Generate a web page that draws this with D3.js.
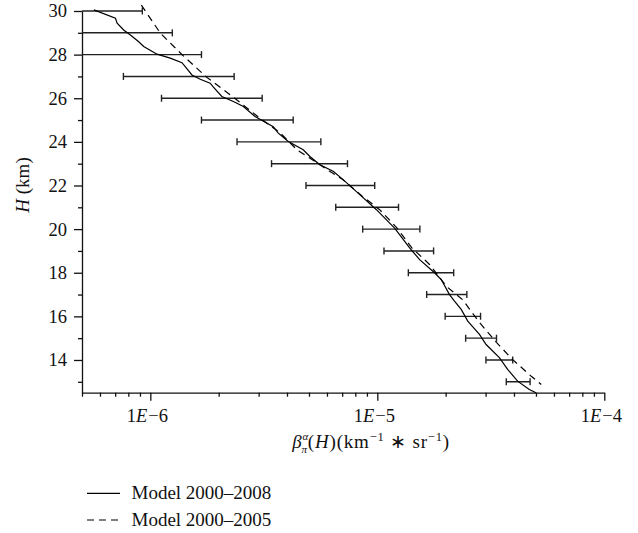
<!DOCTYPE html>
<html>
<head>
<meta charset="utf-8">
<script src="https://cdn.jsdelivr.net/npm/d3@7"></script>
<style>
  html, body { margin: 0; padding: 0; background: #fff; }
  svg { display: block; }
  text { font-family: "Liberation Serif", "Times New Roman", serif; fill: #111; }
</style>
</head>
<body>
<svg id="chart" width="638" height="533"></svg>
<script>
// ---- Data ----
const barHeights = [30, 29, 28, 27, 26, 25, 24, 23, 22, 21, 20, 19, 18, 17, 16, 15, 14, 13];
const barLow  = [4e-7, 4e-7, 4e-7, 7.61e-7, 1.12e-6, 1.68e-6, 2.41e-6, 3.42e-6, 4.85e-6, 6.56e-6, 8.62e-6, 1.07e-5, 1.37e-5, 1.65e-5, 1.99e-5, 2.45e-5, 3.01e-5, 3.70e-5];
const barHigh = [9.22e-7, 1.25e-6, 1.68e-6, 2.34e-6, 3.11e-6, 4.26e-6, 5.64e-6, 7.39e-6, 9.74e-6, 1.24e-5, 1.54e-5, 1.77e-5, 2.17e-5, 2.48e-5, 2.85e-5, 3.35e-5, 3.95e-5, 4.71e-5];

const solidH = [30.05, 29.67, 29.44, 29.13, 28.90, 28.59, 28.37, 28.02, 27.84, 27.63, 27.45, 27.07, 26.87, 26.69, 26.51, 26.08, 25.85, 25.62, 25.16, 24.70, 24.40, 24.02, 23.64, 23.33, 22.95, 22.65, 22.27, 21.58, 20.89, 20.05, 19.14, 18.60, 18.00, 17.69, 17.00, 16.70, 16.32, 15.78, 15.17, 14.71, 14.11, 13.57, 13.03, 12.65, 12.50];
const solidV = [5.64e-7, 7.02e-7, 7.14e-7, 7.63e-7, 8.17e-7, 8.89e-7, 9.35e-7, 1.07e-6, 1.224e-6, 1.378e-6, 1.425e-6, 1.525e-6, 1.659e-6, 1.835e-6, 1.897e-6, 2.065e-6, 2.323e-6, 2.570e-6, 2.893e-6, 3.481e-6, 3.662e-6, 4.053e-6, 4.716e-6, 5.047e-6, 5.584e-6, 6.389e-6, 7.068e-6, 8.369e-6, 9.91e-6, 1.192e-5, 1.388e-5, 1.536e-5, 1.787e-5, 1.912e-5, 2.080e-5, 2.188e-5, 2.342e-5, 2.503e-5, 2.818e-5, 3.015e-5, 3.449e-5, 3.751e-5, 4.151e-5, 4.673e-5, 5.0e-5];

const dashedH = [30.27, 28.99, 27.99, 26.98, 26.06, 25.15, 24.42, 23.64, 22.86, 22.27, 21.49, 20.89, 20.07, 19.15, 18.38, 17.37, 16.77, 15.72, 14.81, 14.03, 13.25, 12.88];
const dashedV = [9.13e-7, 1.106e-6, 1.382e-6, 1.762e-6, 2.316e-6, 2.982e-6, 3.726e-6, 4.424e-6, 5.756e-6, 7.047e-6, 8.627e-6, 1.0245e-5, 1.217e-5, 1.416e-5, 1.699e-5, 2.018e-5, 2.373e-5, 2.818e-5, 3.346e-5, 3.935e-5, 4.768e-5, 5.276e-5];

const xMajorTicks = [1e-6, 1e-5, 1e-4];
const xTickMantissa = ["1", "1", "1"];
const xTickExponent = ["−6", "−5", "−4"];
const xMinorTicks = [5e-7, 6e-7, 7e-7, 8e-7, 9e-7, 2e-6, 3e-6, 4e-6, 5e-6, 6e-6, 7e-6, 8e-6, 9e-6, 2e-5, 3e-5, 4e-5, 5e-5, 6e-5, 7e-5, 8e-5, 9e-5];
const yMajorTicks = [14, 16, 18, 20, 22, 24, 26, 28, 30];
const yMinorTicks = [13, 15, 17, 19, 21, 23, 25, 27, 29];
const legendLabels = ["Model 2000–2008", "Model 2000–2005"];

// ---- Layout ----
const svg = d3.select("#chart");
const plotLeft = 82, plotRight = 604.3, plotTop = 11, plotBottom = 392.7;
const x = d3.scaleLog().domain([5e-7, 1e-4]).range([plotLeft, plotRight]);
const y = d3.scaleLinear().domain([12.5, 30]).range([plotBottom, plotTop]);

svg.append("defs").append("clipPath").attr("id", "plotclip")
  .append("rect").attr("x", plotLeft).attr("y", 0).attr("width", plotRight - plotLeft + 10).attr("height", plotBottom);

// ---- Axes ----
const axisStroke = "#111";
function styleAxis(g) {
  g.selectAll("path.domain").attr("stroke", axisStroke).attr("stroke-width", 1.3);
  g.selectAll(".tick line").attr("stroke", axisStroke).attr("stroke-width", 1.3);
}
const gy = svg.append("g").attr("transform", `translate(${plotLeft},0)`)
  .call(d3.axisLeft(y).tickValues(yMajorTicks).tickSize(8).tickSizeOuter(0).tickPadding(7).tickFormat(d3.format("d")));
gy.selectAll("text").attr("font-size", 18.5).attr("font-family", "Liberation Serif").attr("fill", "#111");
styleAxis(gy);
const gy2 = svg.append("g").attr("transform", `translate(${plotLeft},0)`)
  .call(d3.axisLeft(y).tickValues(yMinorTicks).tickSize(4).tickSizeOuter(0).tickFormat(""));
gy2.select("path.domain").remove();
styleAxis(gy2);

const gx = svg.append("g").attr("transform", `translate(0,${plotBottom})`)
  .call(d3.axisBottom(x).tickValues(xMajorTicks).tickSize(8).tickSizeOuter(0).tickFormat(""));
styleAxis(gx);
const gx2 = svg.append("g").attr("transform", `translate(0,${plotBottom})`)
  .call(d3.axisBottom(x).tickValues(xMinorTicks).tickSize(4).tickSizeOuter(0).tickFormat(""));
gx2.select("path.domain").remove();
styleAxis(gx2);

xMajorTicks.forEach((v, i) => {
  const t = svg.append("text")
    .attr("x", x(v) - 3).attr("y", 422)
    .attr("text-anchor", "middle").attr("font-size", 18.5);
  t.append("tspan").text(xTickMantissa[i]);
  t.append("tspan").attr("font-style", "italic").text("E");
  t.append("tspan").attr("dx", 1).text(xTickExponent[i]);
});

// ---- Error bars ----
const bars = svg.append("g").attr("clip-path", "url(#plotclip)");
const cap = 3.5;
barHeights.forEach((h, i) => {
  const yy = y(h), x0 = x(barLow[i]), x1 = x(barHigh[i]);
  bars.append("line").attr("x1", x0).attr("x2", x1).attr("y1", yy).attr("y2", yy)
    .attr("stroke", "#222").attr("stroke-width", 1.4);
  [x0, x1].forEach(xc => {
    bars.append("line").attr("x1", xc).attr("x2", xc).attr("y1", yy - cap).attr("y2", yy + cap)
      .attr("stroke", "#222").attr("stroke-width", 1.4);
  });
});

// ---- Lines ----
const line = d3.line().x(d => x(d[0])).y(d => y(d[1]));
const solidData = solidV.map((v, i) => [v, solidH[i]]);
const dashedData = dashedV.map((v, i) => [v, dashedH[i]]);
svg.append("path").datum(solidData).attr("d", line)
  .attr("fill", "none").attr("stroke", "#000").attr("stroke-width", 1.2);
svg.append("path").datum(dashedData).attr("d", line)
  .attr("fill", "none").attr("stroke", "#000").attr("stroke-width", 1.2).attr("stroke-dasharray", "7,5");

// ---- Axis titles ----
const xt = svg.append("text").attr("x", 371).attr("y", 448).attr("text-anchor", "middle")
  .attr("font-size", 19).attr("letter-spacing", 0.8);
xt.append("tspan").attr("font-style", "italic").text("β");
xt.append("tspan").attr("font-size", 11).attr("font-style", "italic").attr("dy", -8).text("α");
xt.append("tspan").attr("font-size", 11).attr("font-style", "italic").attr("dx", -7.5).attr("dy", 13).text("π");
xt.append("tspan").attr("dy", -5).text("(");
xt.append("tspan").attr("font-style", "italic").text("H");
xt.append("tspan").text(")(km");
xt.append("tspan").attr("font-size", 12.5).attr("dy", -7).text("−1");
xt.append("tspan").attr("dy", 7).text(" ∗ sr");
xt.append("tspan").attr("font-size", 12.5).attr("dy", -7).text("−1");
xt.append("tspan").attr("dy", 7).text(")");

const yt = svg.append("text").attr("transform", "translate(29,185) rotate(-90)")
  .attr("text-anchor", "middle").attr("font-size", 19);
yt.append("tspan").attr("font-style", "italic").text("H");
yt.append("tspan").text(" (km)");

// ---- Legend ----
const legendY = [493.3, 520];
const legendDash = [null, "7,5"];
legendLabels.forEach((lab, i) => {
  const l = svg.append("line").attr("x1", 87).attr("x2", 120).attr("y1", legendY[i]).attr("y2", legendY[i])
    .attr("stroke", "#000").attr("stroke-width", 1.2);
  if (legendDash[i]) l.attr("stroke-dasharray", legendDash[i]);
  svg.append("text").attr("x", 131.5).attr("y", legendY[i] + 6).attr("font-size", 19).text(lab);
});
</script>
</body>
</html>
